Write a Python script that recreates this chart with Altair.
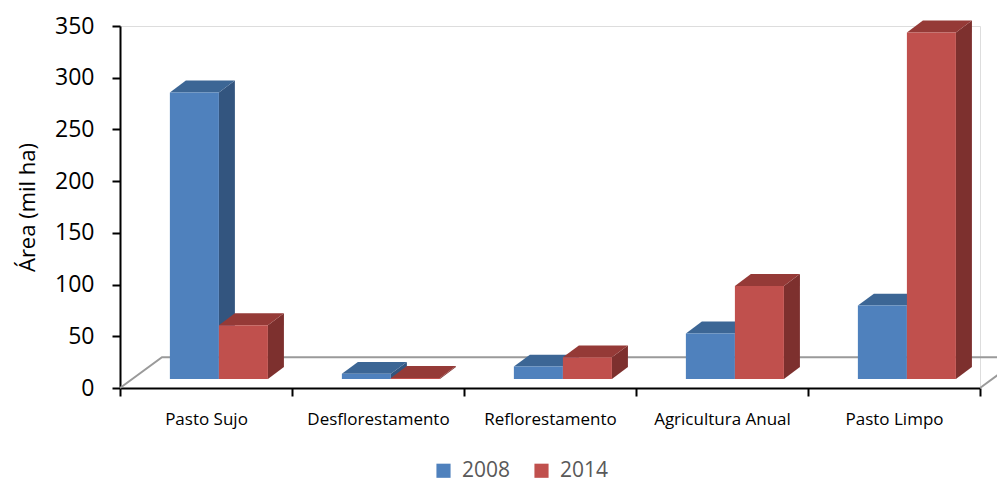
import json
import altair as alt
import pandas as pd

categories = ["Pasto Sujo", "Desflorestamento", "Reflorestamento", "Agricultura Anual", "Pasto Limpo"]
years = ["2008", "2014"]
values_2008 = [277, 5, 12, 44, 71]
values_2014 = [52, 1, 21, 90, 335]

front_colors = ["#4F81BD", "#C0504D"]
top_colors = ["#3C6695", "#953A37"]
side_colors = ["#33557F", "#7D302E"]
floor_color = "#9A9A9A"
FONT = "Open Sans"

# layout constants (in scale units)
BAR_START = 0.29
BAR_W = 0.285
DX = 0.093       # bar depth along x
DY = 11.5        # bar depth along y
FDX = 0.244      # floor depth along x
FDY = 29.7       # floor depth along y
LIFT = -9        # bars stand on the middle of the floor

df = pd.DataFrame({
    "cat": categories * 2,
    "year": [years[0]] * len(categories) + [years[1]] * len(categories),
    "value": values_2008 + values_2014,
})

cats_js = json.dumps(categories)
n = len(categories)

xscale = alt.Scale(domain=[0, n], nice=False, zero=False)
yscale = alt.Scale(domain=[0, 350], nice=False)

label_expr = f"(datum.value % 1) == 0.5 ? {cats_js}[floor(datum.value)] : ''"
xaxis = alt.Axis(
    values=[i * 0.5 for i in range(2 * n + 1)],
    labelExpr=label_expr,
    tickOpacity={"condition": {"test": "(datum.value % 1) == 0", "value": 1}, "value": 0},
    tickSize=8, tickWidth=2, tickColor="#000000",
    domainColor="#000000", domainWidth=2,
    labelFontSize=17, labelFont=FONT, labelColor="#000000",
    labelPadding=15, labelOverlap=False, labelFlush=False,
    grid=False, title=None,
)
yaxis = alt.Axis(
    values=list(range(0, 351, 50)),
    tickSize=8, tickWidth=2, tickColor="#000000",
    domainColor="#000000", domainWidth=2,
    labelFontSize=23, labelFont=FONT, labelColor="#000000", labelPadding=18,
    grid=False, title="Área (mil ha)", titleFontSize=22, titleFont=FONT,
    titleFontWeight="normal", titleColor="#000000", titlePadding=15,
)


def X(field):
    return alt.X(field, type="quantitative", scale=xscale, axis=xaxis)


def Y(field):
    return alt.Y(field, type="quantitative", scale=yscale, axis=yaxis, stack=None)


def pick(colors):
    return alt.condition(f"datum.year == '{years[0]}'", alt.value(colors[0]), alt.value(colors[1]))


base = alt.Chart(df).transform_calculate(
    ci=f"indexof({cats_js}, datum.cat)",
    si=f"datum.year == '{years[0]}' ? 0 : 1",
).transform_calculate(
    x0=f"datum.ci + {BAR_START} + datum.si * {BAR_W}",
).transform_calculate(
    x1=f"datum.x0 + {BAR_W}",
    zero="0",
    key="datum.cat + '_' + datum.year",
)

side = base.transform_calculate(
    sx=f"[datum.x1, datum.x1 + {DX}]",
    sy=f"[datum.value, datum.value + {DY}]",
    sy2=f"[0, {DY}]",
).transform_flatten(["sx", "sy", "sy2"]).mark_area(
    yOffset=LIFT, y2Offset=LIFT, interpolate="linear"
).encode(
    x=X("sx"), y=Y("sy"), y2="sy2:Q", detail="key:N", color=pick(side_colors)
)

top = base.transform_calculate(
    tx=f"[datum.x0, datum.x0 + {DX}, datum.x1, datum.x1 + {DX}]",
    ty=f"[datum.value, datum.value, datum.value, datum.value + {DY}]",
    ty2=f"[datum.value, datum.value + {DY}, datum.value + {DY}, datum.value + {DY}]",
).transform_flatten(["tx", "ty", "ty2"]).mark_area(
    yOffset=LIFT, y2Offset=LIFT, interpolate="linear"
).encode(
    x=X("tx"), y=Y("ty"), y2="ty2:Q", detail="key:N", color=pick(top_colors)
)

front = base.mark_rect(yOffset=LIFT, y2Offset=LIFT).encode(
    x=X("x0"), x2="x1:Q", y=Y("value"), y2="zero:Q",
    color=alt.Color(
        "year:N",
        scale=alt.Scale(domain=years, range=front_colors),
        legend=alt.Legend(
            title=None, orient="none", direction="horizontal",
            legendX=313, legendY=434,
            symbolType="square", symbolSize=200, symbolStrokeWidth=0,
            labelFontSize=21, labelFont=FONT, labelColor="#595959",
            labelOffset=8, columnPadding=20,
        ),
    ),
)

# floor outline (gray)
floor_df = pd.DataFrame({
    "fx": [0, FDX, n + FDX, n, n + FDX],
    "fy": [0, FDY, FDY, 0, FDY],
    "seg": ["a", "a", "a", "b", "b"],
    "o": [0, 1, 2, 0, 1],
})
floor = alt.Chart(floor_df).mark_line(color=floor_color, strokeWidth=2, clip=False).encode(
    x=X("fx"), y=Y("fy"), detail="seg:N", order="o:Q"
)

chart = alt.layer(floor, side, top, front).properties(
    width=860, height=362,
    autosize=alt.AutoSizeParams(type="none"),
    padding={"left": 112, "top": 18, "right": 17, "bottom": 95},
).configure_view(stroke=None).configure(background="#ffffff")

chart.save("out.html", embed_options={"renderer": "svg", "actions": False})
